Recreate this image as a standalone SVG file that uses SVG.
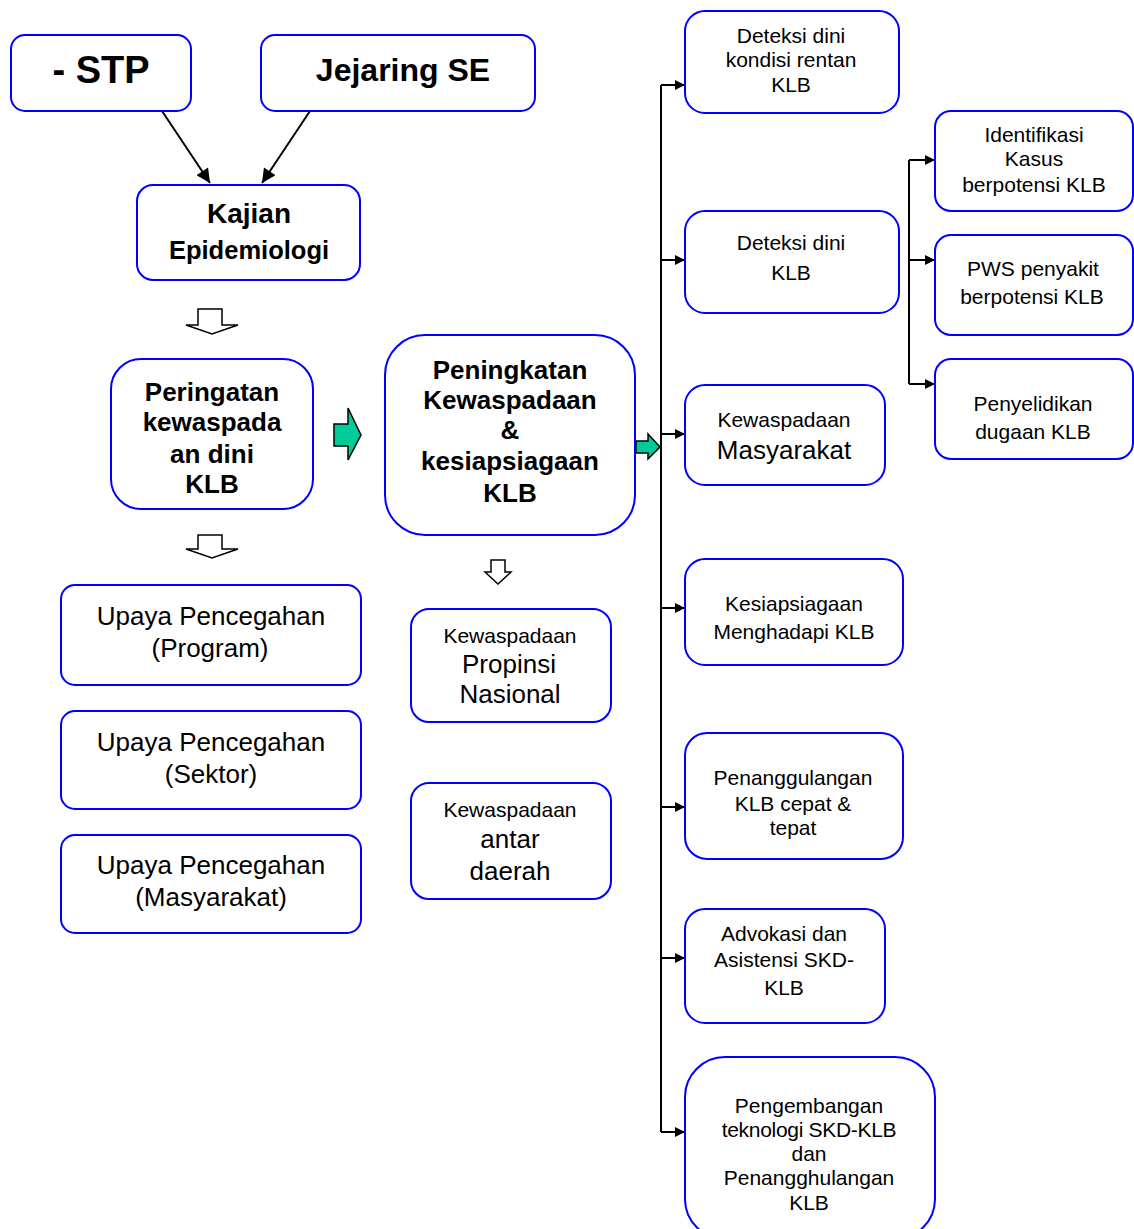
<svg xmlns="http://www.w3.org/2000/svg" width="1134" height="1229" viewBox="0 0 1134 1229">
<defs>
<style>
.box{fill:#fff;stroke:#0000ff;stroke-width:2}
text{font-family:"Liberation Sans",Arial,sans-serif;fill:#000;text-anchor:middle}
.b{font-weight:bold}
.s{font-size:21px}
.ln{stroke:#000;stroke-width:2;fill:none}
.hol{fill:#fff;stroke:#000;stroke-width:1.5}
.grn{fill:#00cc99;stroke:#000;stroke-width:1.5}
</style>
<marker id="ah" viewBox="0 0 10 10" refX="10" refY="5" markerWidth="5.5" markerHeight="5" markerUnits="strokeWidth" orient="auto"><path d="M0,0L10,5L0,10z" fill="#000"/></marker>
<marker id="ah2" viewBox="0 0 10 10" refX="10" refY="5" markerWidth="8" markerHeight="7" markerUnits="strokeWidth" orient="auto"><path d="M0,0L10,5L0,10z" fill="#000"/></marker>
</defs>
<rect width="1134" height="1229" fill="#fff"/>

<g id="connectors">
<path class="ln" d="M162,111L210,183" marker-end="url(#ah2)"/>
<path class="ln" d="M310,111L262,183" marker-end="url(#ah2)"/>
<path class="ln" d="M661,85V1132"/>
<path class="ln" d="M661,85H685" marker-end="url(#ah)"/>
<path class="ln" d="M661,260H685" marker-end="url(#ah)"/>
<path class="ln" d="M661,434H685" marker-end="url(#ah)"/>
<path class="ln" d="M661,608H685" marker-end="url(#ah)"/>
<path class="ln" d="M661,807H685" marker-end="url(#ah)"/>
<path class="ln" d="M661,958H685" marker-end="url(#ah)"/>
<path class="ln" d="M661,1132H685" marker-end="url(#ah)"/>
<path class="ln" d="M909,160V384"/>
<path class="ln" d="M909,160H935" marker-end="url(#ah)"/>
<path class="ln" d="M909,260H935" marker-end="url(#ah)"/>
<path class="ln" d="M909,384H935" marker-end="url(#ah)"/>
<path class="hol" d="M198,309H222V325H238L212,334L186,325H198Z"/>
<path class="hol" d="M198,535H222V549H238L212,558L186,549H198Z"/>
<path class="hol" d="M491,560H505V572H511L498,584L485,572H491Z"/>
<path class="grn" d="M334,424H348V408L361,435L348,460V446H334Z"/>
<path class="grn" d="M636,441H648V434L660,447L648,459V453H636Z"/>
</g>

<g id="stp"><rect class="box" x="11" y="35" width="180" height="76" rx="14"/><text class="b" x="101" y="83" font-size="38">- STP</text></g>
<g id="jejaring"><rect class="box" x="261" y="35" width="274" height="76" rx="14"/><text class="b" x="403" y="81" font-size="32">Jejaring SE</text></g>
<g id="kajian"><rect class="box" x="137" y="185" width="223" height="95" rx="16"/><text class="b" x="249" y="223" font-size="28">Kajian</text><text class="b" x="249" y="259" font-size="25.5">Epidemiologi</text></g>
<g id="peringatan"><rect class="box" x="111" y="359" width="202" height="150" rx="30"/><text class="b" font-size="26"><tspan x="212" y="401">Peringatan</tspan><tspan x="212" y="431">kewaspada</tspan><tspan x="212" y="463">an dini</tspan><tspan x="212" y="493">KLB</tspan></text></g>
<g id="peningkatan"><rect class="box" x="385" y="335" width="250" height="200" rx="40"/><text class="b" font-size="26"><tspan x="510" y="379">Peningkatan</tspan><tspan x="510" y="409">Kewaspadaan</tspan><tspan x="510" y="439">&amp;</tspan><tspan x="510" y="470">kesiapsiagaan</tspan><tspan x="510" y="502">KLB</tspan></text></g>
<g id="upaya1"><rect class="box" x="61" y="585" width="300" height="100" rx="14"/><text font-size="26"><tspan x="211" y="625">Upaya Pencegahan</tspan><tspan x="210" y="657">(Program)</tspan></text></g>
<g id="upaya2"><rect class="box" x="61" y="711" width="300" height="98" rx="14"/><text font-size="26"><tspan x="211" y="751">Upaya Pencegahan</tspan><tspan x="211" y="783">(Sektor)</tspan></text></g>
<g id="upaya3"><rect class="box" x="61" y="835" width="300" height="98" rx="14"/><text font-size="26"><tspan x="211" y="874">Upaya Pencegahan</tspan><tspan x="211" y="906">(Masyarakat)</tspan></text></g>
<g id="propinsi"><rect class="box" x="411" y="609" width="200" height="113" rx="18"/><text class="s" x="510" y="643">Kewaspadaan</text><text font-size="26"><tspan x="509" y="673">Propinsi</tspan><tspan x="510" y="703">Nasional</tspan></text></g>
<g id="antar"><rect class="box" x="411" y="783" width="200" height="116" rx="18"/><text class="s" x="510" y="817">Kewaspadaan</text><text font-size="26"><tspan x="510" y="848">antar</tspan><tspan x="510" y="880">daerah</tspan></text></g>

<g id="rentan"><rect class="box" x="685" y="11" width="214" height="102" rx="20"/><text class="s"><tspan x="791" y="43">Deteksi dini</tspan><tspan x="791" y="67">kondisi rentan</tspan><tspan x="791" y="92">KLB</tspan></text></g>
<g id="deteksi"><rect class="box" x="685" y="211" width="214" height="102" rx="20"/><text class="s"><tspan x="791" y="250">Deteksi dini</tspan><tspan x="791" y="280">KLB</tspan></text></g>
<g id="masyarakat"><rect class="box" x="685" y="385" width="200" height="100" rx="20"/><text class="s" x="784" y="427">Kewaspadaan</text><text font-size="26" x="784" y="459">Masyarakat</text></g>
<g id="kesiapsiagaan"><rect class="box" x="685" y="559" width="218" height="106" rx="20"/><text class="s"><tspan x="794" y="611">Kesiapsiagaan</tspan><tspan x="794" y="639">Menghadapi KLB</tspan></text></g>
<g id="penanggulangan"><rect class="box" x="685" y="733" width="218" height="126" rx="22"/><text class="s"><tspan x="793" y="785">Penanggulangan</tspan><tspan x="793" y="811">KLB cepat &amp;</tspan><tspan x="793" y="835">tepat</tspan></text></g>
<g id="advokasi"><rect class="box" x="685" y="909" width="200" height="114" rx="20"/><text class="s"><tspan x="784" y="941">Advokasi dan</tspan><tspan x="784" y="967">Asistensi SKD-</tspan><tspan x="784" y="995">KLB</tspan></text></g>
<g id="pengembangan"><rect class="box" x="685" y="1057" width="250" height="182" rx="40"/><text class="s"><tspan x="809" y="1113">Pengembangan</tspan><tspan x="809" y="1137" letter-spacing="-0.3">teknologi SKD-KLB</tspan><tspan x="809" y="1161">dan</tspan><tspan x="809" y="1185">Penangghulangan</tspan><tspan x="809" y="1210">KLB</tspan></text></g>

<g id="identifikasi"><rect class="box" x="935" y="111" width="198" height="100" rx="16"/><text class="s"><tspan x="1034" y="142">Identifikasi</tspan><tspan x="1034" y="166">Kasus</tspan><tspan x="1034" y="192">berpotensi KLB</tspan></text></g>
<g id="pws"><rect class="box" x="935" y="235" width="198" height="100" rx="16"/><text class="s"><tspan x="1033" y="276">PWS penyakit</tspan><tspan x="1032" y="304">berpotensi KLB</tspan></text></g>
<g id="penyelidikan"><rect class="box" x="935" y="359" width="198" height="100" rx="16"/><text class="s"><tspan x="1033" y="411">Penyelidikan</tspan><tspan x="1033" y="439">dugaan KLB</tspan></text></g>
</svg>
